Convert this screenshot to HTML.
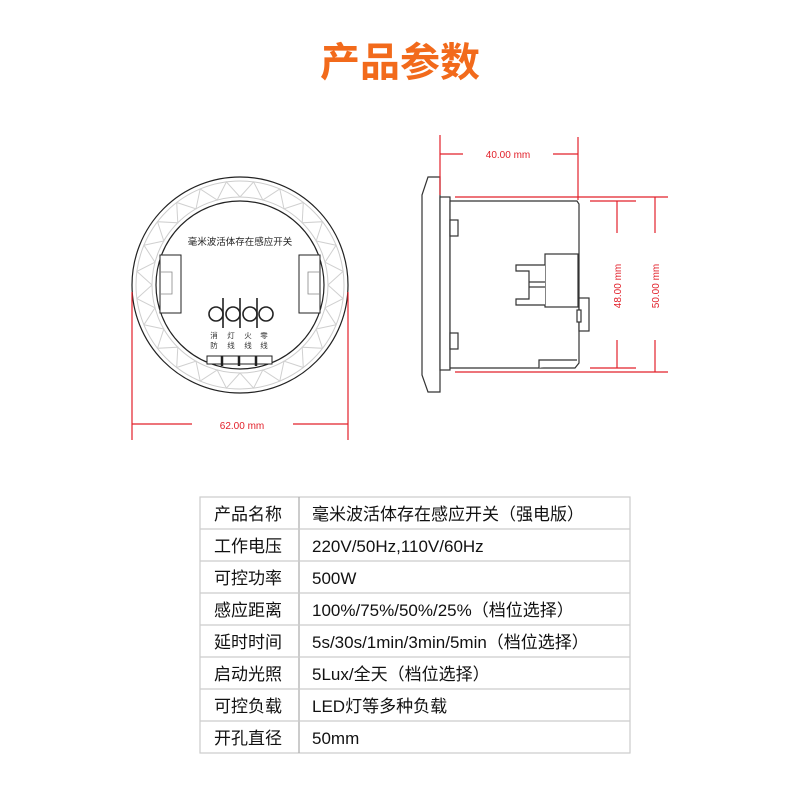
<!DOCTYPE html>
<html><head><meta charset="utf-8"><style>
body{margin:0;background:#fff;width:800px;height:800px;overflow:hidden;font-family:"Liberation Sans","Noto Sans CJK SC",sans-serif}
</style></head><body>
<svg width="800" height="800" xmlns="http://www.w3.org/2000/svg" style="position:absolute;left:0;top:0">
<text x="400" y="76" text-anchor="middle" font-size="40" font-weight="bold" fill="#f26a1b" font-family="Liberation Sans,Noto Sans CJK SC,sans-serif">产品参数</text>

<g fill="none">
<circle cx="240" cy="285" r="108" stroke="#222" stroke-width="1.2"/>
<circle cx="240" cy="285" r="104" stroke="#ccc" stroke-width="1"/>
<circle cx="240" cy="285" r="88" stroke="#ccc" stroke-width="1"/>
<circle cx="240" cy="285" r="84" stroke="#222" stroke-width="1.2"/>
<polyline id="zz" stroke="#d0d0d0" stroke-width="1" points=""/>
</g>
<script>
var s='';var n=24;
for(var i=0;i<=n*2;i++){var a=i*Math.PI/n;var r=(i%2==0)?88:104;s+=(240+r*Math.cos(a)).toFixed(1)+','+(285+r*Math.sin(a)).toFixed(1)+' ';}
document.getElementById('zz').setAttribute('points',s);
</script>
<text x="240" y="245" text-anchor="middle" font-size="9.5" fill="#222">毫米波活体存在感应开关</text>
<g fill="#fff" stroke="#222" stroke-width="1">
<rect x="160" y="255" width="21" height="58"/>
<rect x="299" y="255" width="21" height="58"/>
</g>
<g fill="none" stroke="#888" stroke-width="0.8">
<path d="M160 272 h12 v22 h-12"/><path d="M320 272 h-12 v22 h12"/>
</g>
<g fill="none" stroke="#222" stroke-width="1.6">
<circle cx="216" cy="314" r="7"/><circle cx="233" cy="314" r="7"/><circle cx="250" cy="314" r="7"/><circle cx="266" cy="314" r="7"/>
<line x1="223" y1="298" x2="223" y2="328"/><line x1="240" y1="298" x2="240" y2="328"/><line x1="257" y1="298" x2="257" y2="328"/>
</g>
<g font-size="7.5" fill="#333" text-anchor="middle">
<text x="214" y="338">消</text><text x="214" y="348">防</text>
<text x="231" y="338">灯</text><text x="231" y="348">线</text>
<text x="248" y="338">火</text><text x="248" y="348">线</text>
<text x="264" y="338">零</text><text x="264" y="348">线</text>
</g>
<path d="M207 356 h65 v8 h-65z" fill="#fff" stroke="#222" stroke-width="1"/>
<g stroke="#222" stroke-width="2.5"><line x1="222" y1="356" x2="222" y2="366"/><line x1="239" y1="356" x2="239" y2="366"/><line x1="256" y1="356" x2="256" y2="366"/></g>

<g stroke="#e2202a" stroke-width="1.2" fill="none">
<line x1="132" y1="292" x2="132" y2="440"/><line x1="348" y1="292" x2="348" y2="440"/>
<line x1="132" y1="424" x2="192" y2="424"/><line x1="293" y1="424" x2="348" y2="424"/>
</g>
<text x="242" y="429" text-anchor="middle" font-size="10" fill="#e2202a">62.00 mm</text>

<g fill="#fff" stroke="#333" stroke-width="1.2">
<path d="M428 177 L440 177 L440 392 L428 392 L422 375 L422 195 Z"/>
<rect x="440" y="197" width="10" height="173"/>
<path d="M450 201 L577 201 L579 204 L579 363 L575 368 L450 368 Z"/>
<rect x="450" y="220" width="8" height="16"/>
<rect x="450" y="333" width="8" height="16"/>
<rect x="545" y="254" width="33" height="53"/>
<path d="M545 265 H516 V271 H529 V299 H516 V305 H545"/>
<line x1="529" y1="282" x2="545" y2="282"/><line x1="529" y1="287" x2="545" y2="287"/>
<rect x="579" y="298" width="10" height="33"/>
<rect x="577" y="310" width="4" height="12"/>
<path d="M539 368 V360 H577"/>
</g>
<g stroke="#e2202a" stroke-width="1.2" fill="none">
<line x1="440" y1="135" x2="440" y2="195"/><line x1="578" y1="137" x2="578" y2="200"/>
<line x1="440" y1="154" x2="463" y2="154"/><line x1="553" y1="154" x2="578" y2="154"/>
<line x1="455" y1="197" x2="668" y2="197"/><line x1="455" y1="372" x2="668" y2="372"/>
<line x1="590" y1="201" x2="636" y2="201"/><line x1="590" y1="368" x2="636" y2="368"/>
<line x1="617" y1="201" x2="617" y2="233"/><line x1="617" y1="340" x2="617" y2="368"/>
<line x1="655" y1="197" x2="655" y2="233"/><line x1="655" y1="340" x2="655" y2="372"/>
</g>
<text x="508" y="158" text-anchor="middle" font-size="10" fill="#e2202a">40.00 mm</text>
<text transform="translate(621,286) rotate(-90)" text-anchor="middle" font-size="10" fill="#e2202a">48.00 mm</text>
<text transform="translate(659,286) rotate(-90)" text-anchor="middle" font-size="10" fill="#e2202a">50.00 mm</text>

<g stroke="#ccc" stroke-width="1.2" fill="none">
<rect x="200" y="497" width="430" height="256"/>
<line x1="299" y1="497" x2="299" y2="753" stroke="#aaa"/>
<line x1="200" y1="529" x2="630" y2="529"/><line x1="200" y1="561" x2="630" y2="561"/>
<line x1="200" y1="593" x2="630" y2="593"/><line x1="200" y1="625" x2="630" y2="625"/>
<line x1="200" y1="657" x2="630" y2="657"/><line x1="200" y1="689" x2="630" y2="689"/>
<line x1="200" y1="721" x2="630" y2="721"/>
</g>
<g font-size="17" fill="#111">
<text x="214" y="520">产品名称</text><text x="312" y="520">毫米波活体存在感应开关（强电版）</text>
<text x="214" y="552">工作电压</text><text x="312" y="552">220V/50Hz,110V/60Hz</text>
<text x="214" y="584">可控功率</text><text x="312" y="584">500W</text>
<text x="214" y="616">感应距离</text><text x="312" y="616">100%/75%/50%/25%（档位选择）</text>
<text x="214" y="648">延时时间</text><text x="312" y="648">5s/30s/1min/3min/5min（档位选择）</text>
<text x="214" y="680">启动光照</text><text x="312" y="680">5Lux/全天（档位选择）</text>
<text x="214" y="712">可控负载</text><text x="312" y="712">LED灯等多种负载</text>
<text x="214" y="744">开孔直径</text><text x="312" y="744">50mm</text>
</g>
</svg>
</body></html>
